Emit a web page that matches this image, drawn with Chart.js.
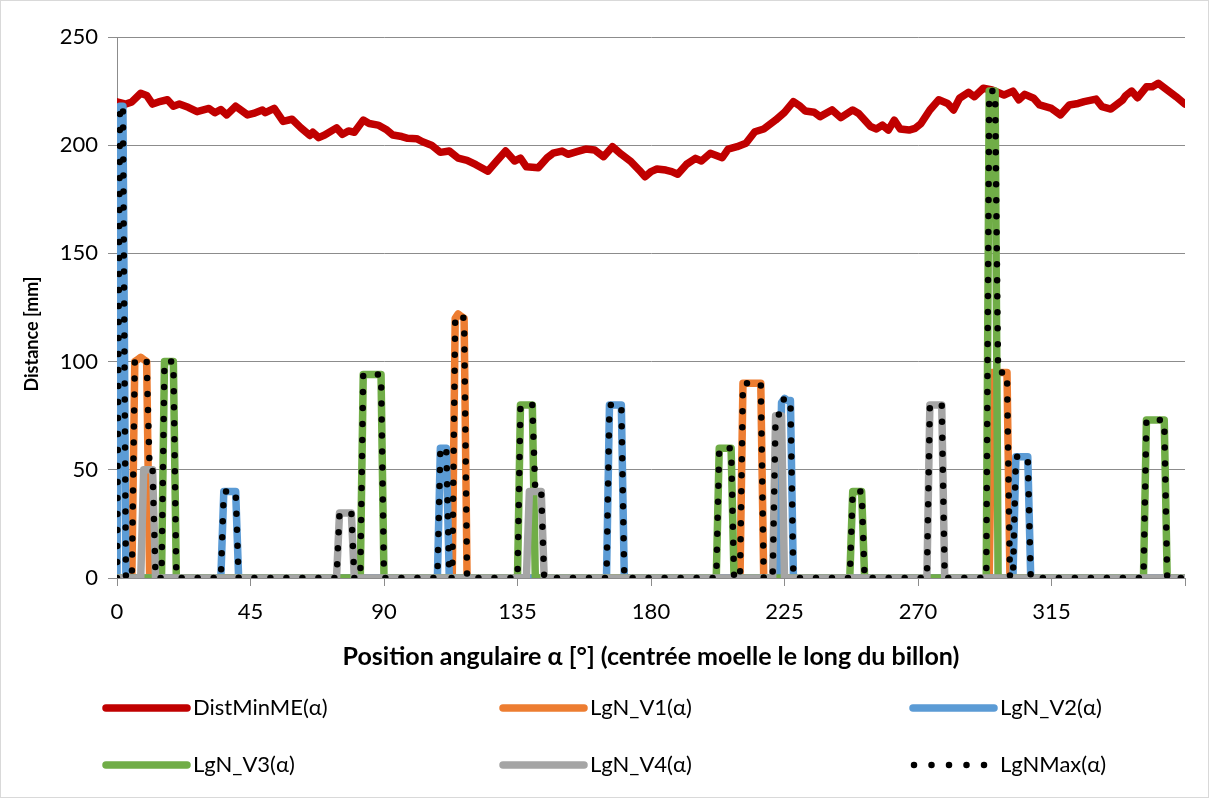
<!DOCTYPE html>
<html>
<head>
<meta charset="utf-8">
<script src="https://cdn.jsdelivr.net/npm/chart.js@4"></script>
<style>
  html, body { margin: 0; padding: 0; background: #fff; }
  #wrap { position: relative; width: 1215px; height: 801px; }
  #frame { position: absolute; left: 0; top: 0; width: 1207px; height: 796px; border: 1px solid #d9d9d9; pointer-events: none; }
</style>
</head>
<body>
<div id="wrap">
  <canvas id="chart"></canvas>
  <div id="frame"></div>
</div>
<script>
// DistMinME(α)
const distX = [0,3,5,8,10,12,14,17,19,21,24,27,31,33,35,37,40,44,46,49,50,53,56,59,62,65,66,68,70,74,76,78,80,83,85,88,91,93,96,98,101,103,106,109,112,115,118,121,125,128,131,134,136,138,142,145,147,150,152,155,158,161,164,167,170,173,176,178,180,182,185,187,189,192,195,197,200,204,206,209,212,215,218,222,225,228,230,232,235,237,241,244,248,250,254,256,258,260,262,264,267,269,271,274,277,280,282,284,287,289,292,295,299,302,304,306,309,311,315,318,321,324,326,330,332,335,339,340,342,344,347,349,351,354,357,360];
const distY = [220,219,220,224,223,219,220,221,218,219,217.5,215.5,217,215,216.5,214,218,214,214.7,216.3,215,217,211,212,208,204.5,206,203.5,204.7,208,205,206.6,206,211.6,210,209.3,207,204.7,204,203.2,203,201.6,200,196.7,197.3,194,193,191,188,192.7,197.3,192.7,194,190,189.6,194.2,196.3,197.3,195.8,197,198.2,197.8,194.7,199.3,195.8,192.7,188.5,185.4,187.8,189,188.5,187.8,186.6,191.2,193.9,192.7,196.3,194.2,198.2,199.3,200.9,206.2,207.5,211.6,215.2,220.1,218.3,215.8,215.2,213.2,216.3,212.7,216.3,214.7,208.6,207.5,209.3,207,211.6,207.5,207,207.8,210,216.3,221,219.3,216.3,221.7,224.4,222.4,226.3,225.5,223.2,225,221,223.5,221.7,218.6,217,214,218.6,219.3,220.1,221.3,217.8,216.7,220.9,222.9,225,221.9,227,227,228.6,225.5,222.4,219];

// LgN_V1(α)
const v1X = [0,5,6,7,8,9,10,11,113,114,115,116,117,118,210,211,217,218,294,295,300,301,360];
const v1Y = [0,0,100,101,102,101,100,0,0,120,122,121,120,0,0,90,90,0,0,95,95,0,0];

// LgN_V2(α)
const v2X = [0,1,2,3,35,36,40,41,108,109,111,112,165,166,170,171,223,224,225,226,227,228,302,303,307,308,360];
const v2Y = [0,218,218,0,0,40,40,0,0,60,60,0,0,80,80,0,0,81,83,82,82,0,0,56,56,0,0];

// LgN_V3(α)
const v3X = [0,15,16,19,20,82,83,89,90,135,136,140,141,202,203,207,208,247,248,251,252,293,294,296,297,346,347,353,354,360];
const v3Y = [0,0,100,100,0,0,94,94,0,0,80,80,0,0,60,60,0,0,40,40,0,0,225,225,0,0,73,73,0,0];

// LgN_V4(α)
const v4X = [0,8,9,12,13,74,75,79,80,138,139,143,144,221,222,224,225,273,274,278,279,360];
const v4Y = [0,0,50,50,0,0,30,30,0,0,40,40,0,0,75,75,0,0,80,80,0,0];

// LgNMax(α)
const maxX = [0,1,2,3,5,6,7,8,9,10,11,12,13,15,16,19,20,35,36,40,41,74,75,79,80,82,83,89,90,108,109,111,112,113,114,115,116,117,118,135,136,140,141,143,144,165,166,170,171,202,203,207,208,210,211,217,218,221,222,223,224,225,226,227,228,247,248,251,252,273,274,278,279,293,294,296,297,300,301,302,303,307,308,346,347,353,354,360];
const maxY = [0,218,218,0,0,100,101,102,101,100,50,50,0,0,100,100,0,0,40,40,0,0,30,30,0,0,94,94,0,0,60,60,0,0,120,122,121,120,0,0,80,80,40,40,0,0,80,80,0,0,60,60,0,0,90,90,0,0,75,75,81,83,82,82,0,0,40,40,0,0,80,80,0,0,225,225,95,95,0,0,56,56,0,0,73,73,0,0];

const xTickStep = 45;
const yTickStep = 50;

const FONT = 'Lato, "Open Sans", sans-serif';

function pts(xs, ys) {
  return xs.map((x, i) => ({ x: x, y: ys[i] }));
}

function solid(label, xs, ys, color, order) {
  return {
    label: label,
    data: pts(xs, ys),
    borderColor: color,
    backgroundColor: color,
    borderWidth: 7.5,
    borderCapStyle: 'round',
    borderJoinStyle: 'round',
    pointRadius: 0,
    tension: 0,
    order: order
  };
}

const datasets = [
  solid('DistMinME(α)', distX, distY, '#C00000', 6),
  solid('LgN_V1(α)', v1X, v1Y, '#ED7D31', 5),
  solid('LgN_V2(α)', v2X, v2Y, '#5B9BD5', 4),
  solid('LgN_V3(α)', v3X, v3Y, '#70AD47', 3),
  solid('LgN_V4(α)', v4X, v4Y, '#A5A5A5', 2),
  {
    label: 'LgNMax(α)',
    data: pts(maxX, maxY),
    borderColor: '#000000',
    backgroundColor: '#000000',
    borderWidth: 6.5,
    borderDash: [0, 16],
    borderCapStyle: 'round',
    borderJoinStyle: 'round',
    pointRadius: 0,
    tension: 0,
    order: 1
  }
];

// legend in a 3 x 2 grid like the original, plus the y title sitting a bit low as in the source
const gridLegend = {
  id: 'gridLegend',
  afterDraw(chart) {
    const ctx = chart.ctx;
    const colX = [103, 500, 910];
    const rowY = [708, 765];
    ctx.save();
    chart.data.datasets.forEach((ds, i) => {
      const x = colX[i % 3];
      const y = rowY[Math.floor(i / 3)];
      ctx.beginPath();
      ctx.lineCap = 'round';
      ctx.strokeStyle = ds.borderColor;
      if (ds.borderDash) {
        ctx.lineWidth = 6.5;
        ctx.setLineDash([0, 17.5]);
        ctx.moveTo(x + 4, y);
        ctx.lineTo(x + 84, y);
      } else {
        ctx.lineWidth = 7.5;
        ctx.setLineDash([]);
        ctx.moveTo(x + 3, y);
        ctx.lineTo(x + 84, y);
      }
      ctx.stroke();
      ctx.setLineDash([]);
      ctx.fillStyle = '#000';
      ctx.font = '22px ' + FONT;
      ctx.textBaseline = 'middle';
      ctx.textAlign = 'left';
      ctx.fillText(ds.label, x + 90, y);
    });

    ctx.translate(32, 334);
    ctx.rotate(-Math.PI / 2);
    ctx.font = 'bold 18px ' + FONT;
    ctx.textAlign = 'center';
    ctx.textBaseline = 'middle';
    ctx.fillText('Distance [mm]', 0, 0);
    ctx.restore();
  }
};

new Chart(document.getElementById('chart'), {
  type: 'line',
  data: { datasets: datasets },
  options: {
    responsive: true,
    maintainAspectRatio: false,
    animation: false,
    layout: { padding: { top: 37, left: 0, right: 30, bottom: 123 } },
    plugins: {
      legend: { display: false },
      tooltip: { enabled: false }
    },
    scales: {
      x: {
        type: 'linear',
        min: 0,
        max: 360,
        afterFit: (s) => { s.height = 100; },
        ticks: {
          stepSize: xTickStep,
          autoSkip: false,
          maxRotation: 0,
          padding: 13,
          color: '#000',
          font: { family: FONT, size: 22 },
          callback: (v) => (v < 360 ? v : '')
        },
        grid: {
          drawOnChartArea: false,
          drawTicks: true,
          tickLength: 8,
          color: '#8c8c8c'
        },
        border: { display: true, color: '#8c8c8c' },
        title: {
          display: true,
          text: 'Position angulaire α [°] (centrée moelle le long du billon)',
          color: '#000',
          font: { family: FONT, size: 25, weight: 'bold' },
          padding: { top: 0, bottom: 6 }
        }
      },
      y: {
        min: 0,
        max: 250,
        afterFit: (s) => { s.width = 117; },
        ticks: {
          stepSize: yTickStep,
          padding: 10,
          color: '#000',
          font: { family: FONT, size: 22 }
        },
        grid: {
          color: '#8c8c8c',
          lineWidth: 1,
          tickLength: 9
        },
        border: { display: true, color: '#8c8c8c' },
        title: { display: false }
      }
    }
  },
  plugins: [gridLegend]
});
</script>
</body>
</html>
